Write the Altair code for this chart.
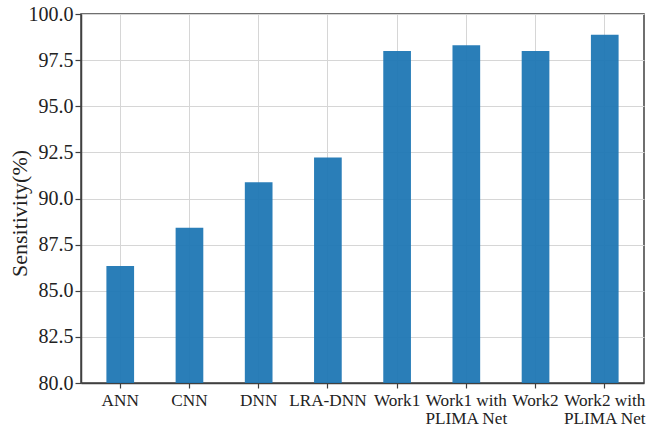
import altair as alt
import pandas as pd

# Sensitivity of each model
models = ["ANN", "CNN", "DNN", "LRA-DNN", "Work1", "Work1 with PLIMA Net",
          "Work2", "Work2 with PLIMA Net"]
sensitivity = [86.34, 88.42, 90.88, 92.22, 98.0, 98.31, 98.0, 98.87]
y_ticks = [80.0, 82.5, 85.0, 87.5, 90.0, 92.5, 95.0, 97.5, 100.0]

df = pd.DataFrame({"model": models, "sensitivity": sensitivity})

FONT = "Liberation Serif"
FRAME = "#404040"

label_expr = ("indexof(datum.label, ' PLIMA') > 0 ? "
              "split(replace(datum.label, ' PLIMA', '|PLIMA'), '|') : datum.label")

bars = alt.Chart(df).mark_bar(color="#1f77b4", opacity=0.95, clip=True).encode(
    x=alt.X("model:N", sort=models,
            scale=alt.Scale(paddingInner=0.6, paddingOuter=0.367),
            axis=alt.Axis(title=None, labelAngle=0, labelExpr=label_expr,
                          labelPadding=3, labelLineHeight=18, labelBaseline="top",
                          tickSize=5)),
    y=alt.Y("sensitivity:Q",
            scale=alt.Scale(domain=[80, 100], nice=False, zero=False),
            axis=alt.Axis(title="Sensitivity(%)", values=y_ticks, format=".1f",
                          labelPadding=2, labelLimit=80,
                          titleAngle=-90, titleAlign="center",
                          titleBaseline="alphabetic", titleX=-55, titleY=199,
                          tickSize=6)),
)

chart = bars.properties(
    width=563, height=369,
    background="white",
    autosize=alt.AutoSizeParams(type="none"),
    padding={"left": 81, "top": 14, "right": 15, "bottom": 52},
).configure_view(
    stroke=FRAME, strokeWidth=1.5
).configure_axis(
    labelFont=FONT, labelColor="#222",
    titleFont=FONT, titleFontSize=22, titleFontWeight="normal", titleColor="#222",
    tickColor=FRAME, tickWidth=1.2, domainColor=FRAME, domainWidth=1.5,
    grid=True, gridColor="#d6d6d6", gridWidth=1,
).configure_axisX(
    labelFontSize=17.2
).configure_axisY(
    labelFontSize=20
)

chart.save("out.html", embed_options={"renderer": "svg", "actions": False})
